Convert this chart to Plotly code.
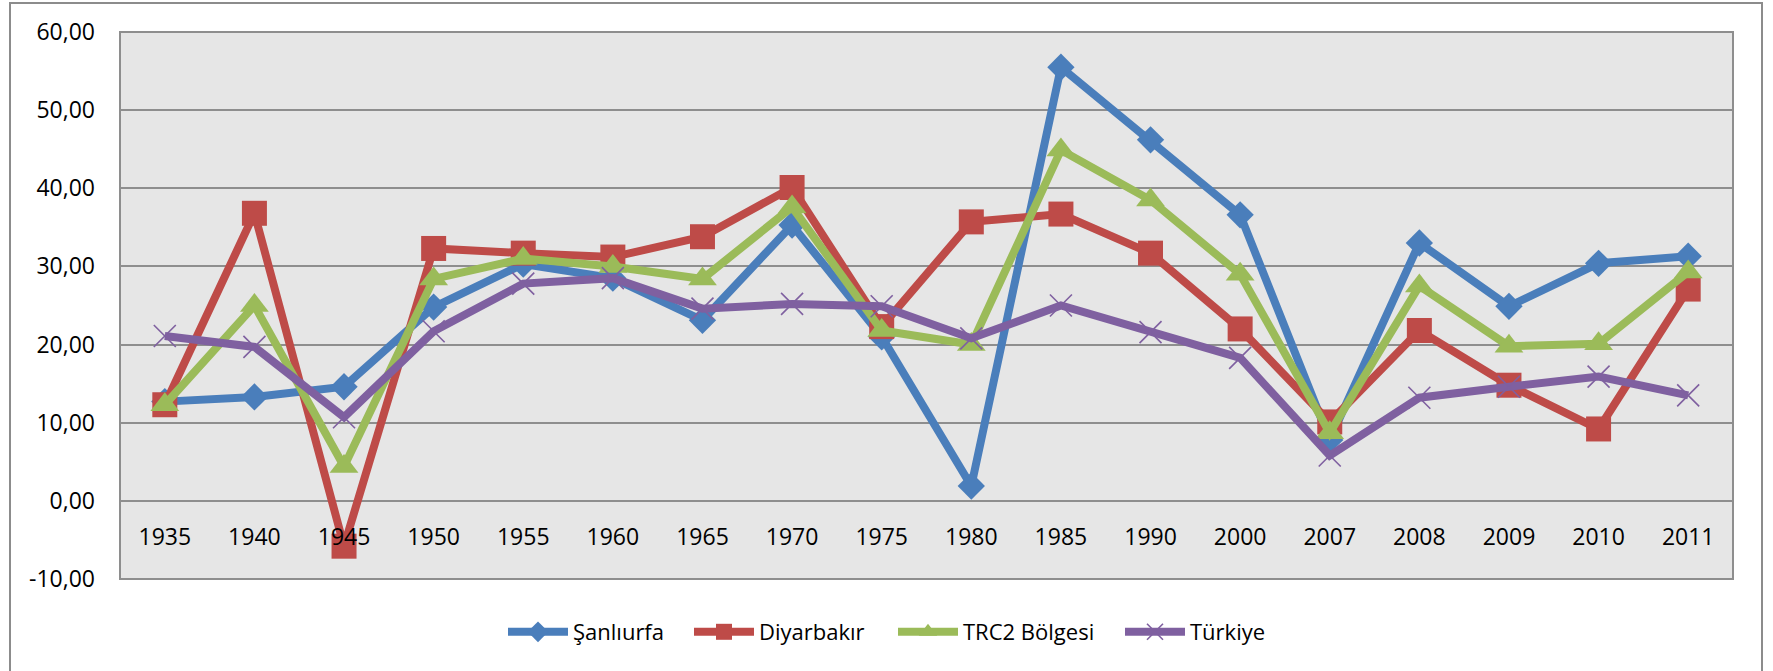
import plotly.graph_objects as go

years = ["1935", "1940", "1945", "1950", "1955", "1960", "1965", "1970", "1975",
         "1980", "1985", "1990", "2000", "2007", "2008", "2009", "2010", "2011"]

sanliurfa = [12.7, 13.3, 14.6, 24.8, 30.3, 28.5, 23.1, 35.3, 21.0,
             1.9, 55.5, 46.2, 36.6, 7.8, 33.0, 24.9, 30.4, 31.3]
diyarbakir = [12.3, 36.8, -5.8, 32.3, 31.7, 31.2, 33.8, 40.1, 22.3,
              35.7, 36.7, 31.7, 22.0, 10.1, 21.8, 14.8, 9.2, 27.1]
trc2 = [12.3, 25.0, 4.4, 28.4, 31.0, 30.0, 28.4, 37.6, 21.8,
        20.0, 44.9, 38.5, 29.0, 8.7, 27.5, 19.8, 20.1, 29.3]
turkiye = [21.1, 19.7, 10.7, 21.7, 27.8, 28.5, 24.6, 25.2, 24.9,
           20.8, 25.0, 21.6, 18.3, 5.8, 13.2, 14.6, 15.9, 13.5]

series_names = ["Şanlıurfa", "Diyarbakır", "TRC2 Bölgesi", "Türkiye"]
y_tickvals = [-10, 0, 10, 20, 30, 40, 50, 60]
y_ticktext = ["-10,00", "0,00", "10,00", "20,00", "30,00", "40,00", "50,00", "60,00"]

FONT = "Open Sans"
GRID = "#8e8e8e"

W, H = 1773, 671
ml, mr, mt, mb = 120, 40, 32, 92
pw = W - ml - mr
ph = H - mt - mb

def px_x(x):
    return (x - ml) / pw

def px_y(y):
    return (H - mb - y) / ph

fig = go.Figure()

styles = [
    dict(color="#4a7ebb", symbol="diamond", size=21, legend="legend", lx=509),
    dict(color="#be4b48", symbol="square", size=25, legend="legend2", lx=695),
    dict(color="#9bbb59", symbol="triangle-up", size=25, legend="legend3", lx=899),
    dict(color="#7f60a0", symbol="x-thin", size=22, legend="legend4", lx=1126),
]

for name, vals, st in zip(series_names, [sanliurfa, diyarbakir, trc2, turkiye], styles):
    if st["symbol"] == "x-thin":
        marker = dict(symbol="x-thin", size=st["size"], color=st["color"],
                      line=dict(color=st["color"], width=1.6))
    else:
        marker = dict(symbol=st["symbol"], size=st["size"], color=st["color"],
                      line=dict(width=0))
    fig.add_trace(go.Scatter(
        x=years, y=vals, name=name, mode="lines+markers",
        line=dict(color=st["color"], width=8),
        marker=marker, legend=st["legend"],
    ))

legend_common = dict(
    orientation="h", xanchor="left", y=px_y(632), yanchor="middle",
    font=dict(family=FONT, size=22, color="black"),
    bgcolor="rgba(0,0,0,0)", itemwidth=60, borderwidth=0,
)
legend_layout = {}
for st in styles:
    legend_layout[st["legend"]] = dict(legend_common, x=px_x(st["lx"] - 6))

fig.update_layout(
    width=W, height=H,
    margin=dict(l=ml, r=mr, t=mt, b=mb, pad=0),
    paper_bgcolor="white",
    plot_bgcolor="#e6e6e6",
    font=dict(family=FONT, size=23, color="black"),
    showlegend=True,
    xaxis=dict(
        type="category", anchor="free", position=10 / 70,
        showgrid=False, showline=False, zeroline=False, ticks="",
        ticklabelstandoff=20,
        tickfont=dict(family=FONT, size=23, color="black"),
        range=[-0.5, 17.5],
    ),
    yaxis=dict(
        range=[-10, 60], tickvals=y_tickvals, ticktext=y_ticktext,
        showgrid=True, gridcolor=GRID, gridwidth=2,
        zeroline=False, showline=False, ticks="",
        ticklabelstandoff=24,
        tickfont=dict(family=FONT, size=23, color="black"),
    ),
    shapes=[
        dict(type="rect", xref="paper", yref="paper", x0=0, x1=1, y0=0, y1=1,
             line=dict(color=GRID, width=2), layer="above"),
        dict(type="rect", xref="paper", yref="paper",
             x0=px_x(10), x1=px_x(1762), y0=px_y(3), y1=px_y(700),
             line=dict(color="#8c8c8c", width=2), layer="above"),
    ],
    **legend_layout,
)

fig.write_html("out.html",
               config={"displayModeBar": False},
               post_script="document.body.style.margin='0';document.body.style.overflow='hidden';")
